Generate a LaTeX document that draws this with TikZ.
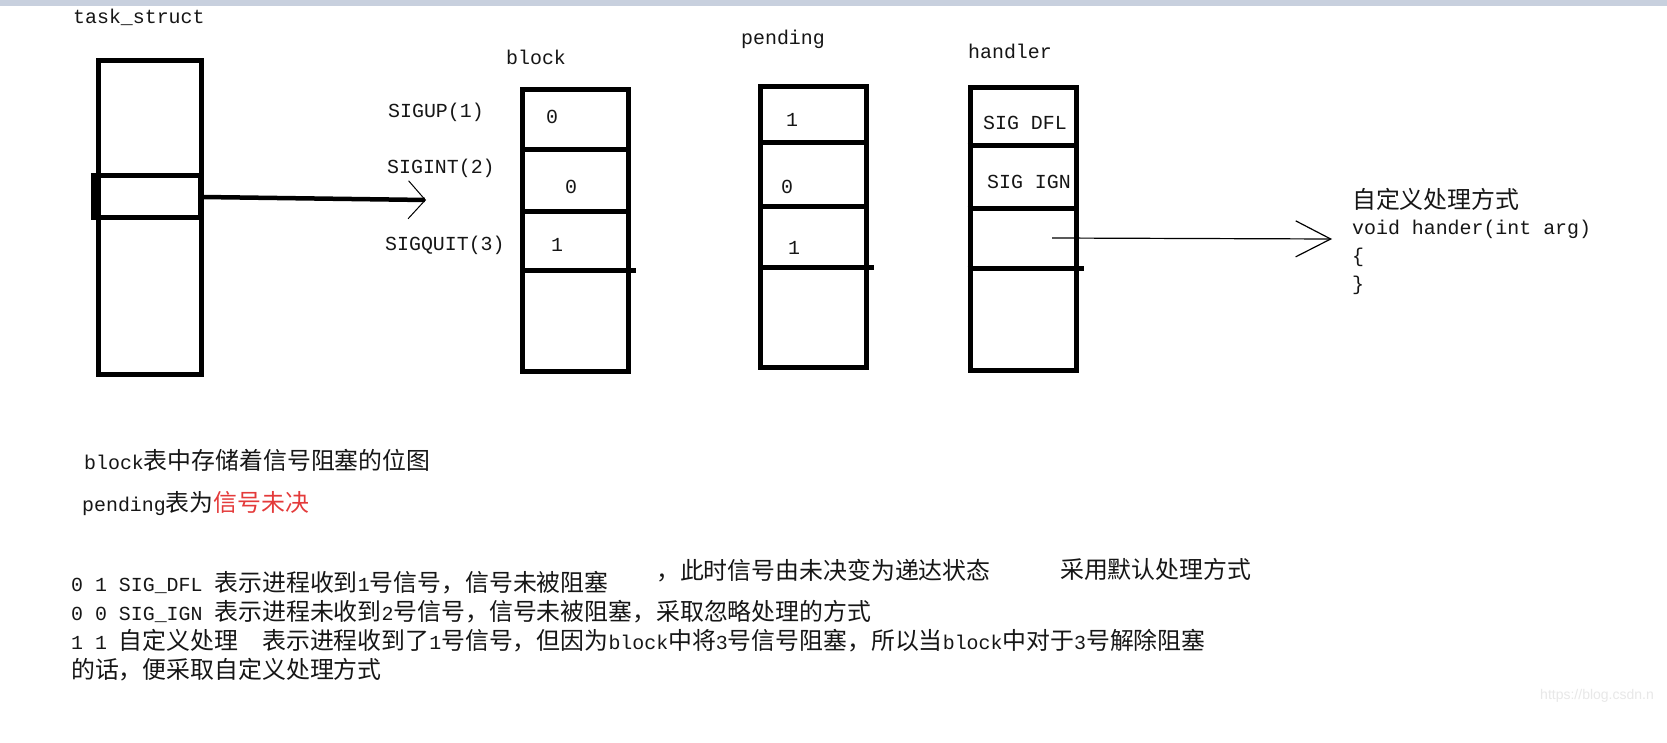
\documentclass[tikz,border=0pt]{standalone}
\usepackage{fontspec}
\setmainfont{Liberation Mono}
\newfontfamily\cjk{Noto Sans CJK SC}[Scale=1.2]
\newfontfamily\markfont{Liberation Sans}
\usetikzlibrary{arrows.meta}

\newcommand\zh[1]{{\cjk #1}}
\definecolor{topbar}{RGB}{200,208,222}
\definecolor{alert}{RGB}{228,58,58}
\definecolor{ink}{RGB}{22,22,22}

\begin{document}
\begin{tikzpicture}[
    x=1pt, y=-1pt,
    every node/.style={inner sep=0pt, text=ink, font=\fontsize{19.9}{24}\selectfont},
    txt/.style={anchor=west},
    num/.style={anchor=center},
    table/.style={draw, line width=5pt, minimum width=106pt},
    rule/.style={line width=5pt},
    pointer/.style={line width=4.5pt, -{Straight Barb[length=17pt, width=38pt, line width=1pt]}},
    thinarrow/.style={line width=1.2pt, -{Straight Barb[length=35pt, width=36pt, line width=1.2pt]}}
]

% page and top strip
\fill[white] (0,0) rectangle (1667,743);
\useasboundingbox (0,0) rectangle (1667,743);
\fill[topbar] (0,0) rectangle (1667,6);

% task_struct
\node[txt] (tasklbl) at (73,17) {task\_struct};
\node[table, minimum width=103pt, minimum height=313pt] (task) at (149.5,217.5) {};
\node[table, minimum width=107pt, minimum height=42pt] (slot) at (146.5,197) {};

% block table
\node[txt] (blocklbl) at (506,57) {block};
\node[table, minimum height=281pt] (block) at (575.5,230.5) {};
\draw[rule] (block.west |- 0,150) -- (block.east |- 0,150);
\draw[rule] (block.west |- 0,212) -- (block.east |- 0,212);
\draw[rule] (block.west |- 0,271) -- ([xshift=5pt]block.east |- 0,271);
\node[num] (b1) at (552,117) {0};
\node[num] (b2) at (571,187) {0};
\node[num] (b3) at (557,245) {1};

% signal names
\node[txt] (sigup) at (388,112) {SIGUP(1)};
\node[txt] (sigint) at (387,168) {SIGINT(2)};
\node[txt] (sigquit) at (385,245) {SIGQUIT(3)};
\coordinate (sigtip) at (426,200);

% pending table
\node[txt] (pendlbl) at (741,39) {pending};
\node[table, minimum height=281pt] (pend) at (813.5,227) {};
\draw[rule] (pend.west |- 0,143) -- (pend.east |- 0,143);
\draw[rule] (pend.west |- 0,207) -- (pend.east |- 0,207);
\draw[rule] (pend.west |- 0,268) -- ([xshift=5pt]pend.east |- 0,268);
\node[num] (p1) at (792,120) {1};
\node[num] (p2) at (787,187) {0};
\node[num] (p3) at (794,248) {1};

% handler table
\node[txt] (handlbl) at (968,51) {handler};
\node[table, minimum height=282pt] (hand) at (1023,229) {};
\draw[rule] (hand.west |- 0,146) -- (hand.east |- 0,146);
\draw[rule] (hand.west |- 0,209) -- (hand.east |- 0,209);
\draw[rule] (hand.west |- 0,269) -- ([xshift=5pt]hand.east |- 0,269);
\node[txt] (h1) at (983,123) {SIG DFL};
\node[txt] (h2) at (987,182) {SIG IGN};
\coordinate (hstart) at (1052,238);
\coordinate (htip) at (1332,239);

% custom handler
\node[txt] (fnname) at (1352,199) {\zh{自定义处理方式}};
\node[txt] (fnsig) at (1352,229) {void hander(int arg)};
\node[txt] (fnopen) at (1352,257) {\{};
\node[txt] (fnclose) at (1352,285) {\}};

% arrows
\draw[pointer] (slot.east) -- (sigtip);
\draw[thinarrow] (hstart) -- (htip);

% notes
\node[txt] (note1) at (84,460) {block\zh{表中存储着信号阻塞的位图}};
\node[txt] (note2) at (82,504) {pending\zh{表为}\zh{\color{alert}信号未决}};

\node[txt] (line1) at (71,583) {0 1 SIG\_DFL \zh{表示进程收到}1\zh{号信号，信号未被阻塞}};
\node[txt] (line1b) at (656,571) {\zh{，此时信号由未决变为递达状态}};
\node[txt] (line1c) at (1060,569) {\zh{采用默认处理方式}};
\node[txt] (line2) at (71,612) {0 0 SIG\_IGN \zh{表示进程未收到}2\zh{号信号，信号未被阻塞，采取忽略处理的方式}};
\node[txt] (line3) at (71,641) {1 1 \zh{自定义处理}~~\zh{表示进程收到了}1\zh{号信号，但因为}block\zh{中将}3\zh{号信号阻塞，所以当}block\zh{中对于}3\zh{号解除阻塞}};
\node[txt] (line4) at (71,670) {\zh{的话，便采取自定义处理方式}};

% watermark
\node[txt, text=black!9, font=\markfont\fontsize{14}{16}\selectfont] (mark) at (1540,696) {https://blog.csdn.n};

\end{tikzpicture}
\end{document}
